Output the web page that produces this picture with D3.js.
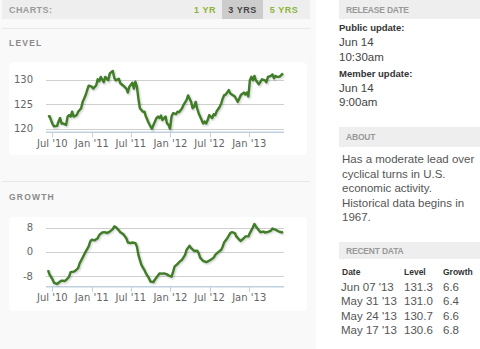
<!DOCTYPE html>
<html>
<head>
<meta charset="utf-8">
<script src="https://cdn.jsdelivr.net/npm/d3@7"></script>
<style>
  html, body { margin: 0; padding: 0; background: #fff; }
  svg { display: block; font-family: "Liberation Sans", Arial, sans-serif; }
</style>
</head>
<body>
<svg id="page" width="480" height="349"></svg>
<script>
// weeks after Fri 11 Jun 2010 (weekly readings)
const levelWeek = [0, 1, 3, 4, 6, 7, 8, 9, 10, 12, 13, 14, 15, 16, 17, 19, 20, 22, 23, 24, 25, 26, 27, 29, 30, 32, 33, 34, 35, 37, 38, 40, 41, 43, 44, 45, 47, 48, 50, 52, 53, 54, 56, 57, 58, 59, 60, 61, 63, 64, 65, 67, 69, 70, 72, 73, 74, 75, 76, 78, 79, 80, 81, 82, 83, 85, 86, 87, 89, 90, 92, 93, 95, 96, 97, 98, 99, 100, 102, 103, 104, 105, 106, 107, 109, 110, 111, 112, 114, 115, 116, 117, 118, 120, 121, 122, 124, 126, 127, 128, 130, 131, 132, 133, 134, 135, 136, 137, 138, 140, 141, 142, 144, 145, 146, 148, 149, 150, 151, 152, 153, 154, 155, 156];
const levelValue = [122.5, 122.6, 121.0, 120.5, 120.6, 121.5, 122.2, 121.1, 121.1, 120.8, 122.5, 122.8, 122.5, 123.5, 122.5, 122.8, 123.5, 124.2, 125.5, 126.2, 126.9, 127.9, 128.8, 128.6, 128.2, 128.9, 130.1, 129.7, 130.6, 129.5, 130.6, 129.9, 131.3, 131.8, 130.4, 129.9, 130.2, 129.3, 128.8, 128.2, 127.4, 128.6, 129.4, 128.2, 129.6, 128.6, 126.2, 124.2, 123.5, 123.5, 122.5, 121.1, 120.0, 120.8, 122.2, 122.5, 122.2, 122.7, 121.8, 122.5, 121.1, 120.8, 120.0, 122.5, 123.2, 123.0, 123.5, 123.4, 124.2, 124.9, 125.9, 126.8, 125.5, 124.2, 124.5, 125.5, 124.2, 123.2, 121.8, 121.1, 121.5, 121.1, 121.8, 122.8, 122.2, 123.0, 122.8, 123.6, 124.5, 125.2, 126.2, 126.9, 127.0, 127.9, 127.2, 127.0, 126.6, 125.5, 126.2, 126.9, 127.4, 127.0, 127.4, 126.6, 129.9, 130.6, 129.9, 130.8, 129.9, 129.1, 129.6, 130.1, 129.9, 129.5, 130.6, 130.8, 131.1, 130.3, 130.8, 130.6, 130.6, 130.7, 131.0, 131.3];

const growthWeek = [0, 1, 3, 4, 6, 8, 9, 11, 12, 14, 15, 17, 18, 20, 21, 23, 25, 27, 28, 29, 31, 33, 34, 36, 38, 39, 41, 43, 44, 45, 47, 48, 50, 52, 53, 55, 56, 58, 59, 60, 62, 64, 65, 67, 68, 70, 71, 73, 74, 76, 77, 79, 80, 82, 83, 84, 86, 87, 89, 91, 92, 94, 95, 97, 99, 100, 101, 103, 105, 106, 108, 110, 111, 113, 115, 116, 117, 119, 121, 122, 124, 125, 127, 128, 130, 131, 133, 134, 136, 137, 138, 140, 141, 143, 144, 146, 148, 149, 151, 153, 154, 155, 156];
const growthValue = [-6.0, -7.4, -9.1, -10.2, -10.6, -9.8, -9.5, -9.6, -9.3, -8.2, -6.7, -6.5, -6.3, -5.4, -3.8, -1.9, 0.1, 1.8, 3.4, 4.0, 3.8, 4.5, 5.6, 6.4, 6.5, 6.2, 6.7, 7.5, 8.4, 8.2, 7.1, 6.5, 5.8, 4.5, 3.1, 2.9, 3.1, 2.9, 1.8, -1.0, -4.3, -6.0, -7.1, -8.7, -9.8, -10.0, -9.1, -7.8, -7.1, -7.2, -7.1, -7.4, -7.8, -8.2, -6.7, -4.9, -4.0, -3.4, -2.6, -1.0, 0.7, 2.0, 1.2, 0.3, 0.4, -0.4, -1.9, -3.0, -3.4, -3.2, -2.6, -1.9, -1.0, -0.1, 0.7, 1.8, 3.2, 4.5, 6.2, 6.5, 6.2, 5.1, 4.0, 3.6, 4.5, 5.1, 5.1, 6.2, 8.1, 9.2, 8.4, 7.1, 6.5, 6.7, 6.4, 6.6, 7.0, 7.7, 7.3, 6.8, 6.6, 6.4, 6.6];

const levelTicks = [120, 125, 130];
const growthTicks = [-8, 0, 8];
const xTickDates = ["2010-07-01", "2011-01-01", "2011-07-01", "2012-01-01", "2012-07-01", "2013-01-01"];

const chartTabs = ["1 YR", "3 YRS", "5 YRS"];
const releaseLines = [
  {text: "Public update:", bold: true},
  {text: "Jun 14"}, {text: "10:30am"},
  {text: "Member update:", bold: true},
  {text: "Jun 14"}, {text: "9:00am"}
];
const aboutLines = ["Has a moderate lead over", "cyclical turns in U.S.", "economic activity.", "Historical data begins in", "1967."];
const recentHeader = ["Date", "Level", "Growth"];
const recentDates = ["Jun 07 '13", "May 31 '13", "May 24 '13", "May 17 '13"];
const recentLevel = ["131.3", "131.0", "130.7", "130.6"];
const recentGrowth = ["6.6", "6.4", "6.6", "6.8"];

const svg = d3.select("#page");
const start = new Date(2010, 5, 11);
const weekDate = w => d3.timeDay.offset(start, 7 * w);
const parse = d3.timeParse("%Y-%m-%d");

// backgrounds
svg.append("rect").attr("x", 0).attr("y", 0).attr("width", 316).attr("height", 349).attr("fill", "#f9f9f9");
svg.append("rect").attr("x", 2).attr("y", 0).attr("width", 308).attr("height", 19).attr("fill", "#eeeeee");
svg.append("line").attr("x1", 2).attr("x2", 310).attr("y1", 28.5).attr("y2", 28.5).attr("stroke", "#e8e8e8");
svg.append("line").attr("x1", 2).attr("x2", 310).attr("y1", 181.5).attr("y2", 181.5).attr("stroke", "#e8e8e8");

svg.append("text").attr("x", 9).attr("y", 12.5).text("CHARTS:")
  .attr("font-size", 9).attr("font-weight", "bold").attr("fill", "#9a9a9a").attr("letter-spacing", 0.4);

const tabX = [194, 222, 269];
const tabW = [22, 41, 30];
svg.append("rect").attr("x", 222).attr("y", 0).attr("width", 41).attr("height", 19).attr("fill", "#cccccc");
svg.selectAll("text.tab").data(chartTabs).join("text")
  .attr("class", "tab")
  .attr("x", (d, i) => tabX[i] + tabW[i] / 2)
  .attr("y", 12.5)
  .attr("text-anchor", "middle")
  .attr("font-size", 9).attr("font-weight", "bold").attr("letter-spacing", 0.5)
  .attr("fill", (d, i) => i === 1 ? "#444" : "#8cb43a")
  .text(d => d);

svg.append("text").attr("x", 9).attr("y", 46).text("LEVEL")
  .attr("font-size", 8.5).attr("font-weight", "bold").attr("fill", "#8a8a8a").attr("letter-spacing", 1.2);
svg.append("text").attr("x", 9).attr("y", 200).text("GROWTH")
  .attr("font-size", 8.5).attr("font-weight", "bold").attr("fill", "#8a8a8a").attr("letter-spacing", 1.2);

const x = d3.scaleTime().domain([weekDate(0), weekDate(156)]).range([48, 283]);
const fmt = d3.timeFormat("%b '%y");

function drawChart(top, bottom, weeks, values, domain, ticks, yTop, yAxis) {
  svg.append("rect").attr("x", 9).attr("y", top).attr("width", 298).attr("height", bottom - top)
    .attr("rx", 5).attr("fill", "#ffffff");

  const y = d3.scaleLinear().domain(domain).range([yAxis, yTop]);

  const g = svg.append("g");
  g.selectAll("line.grid").data(ticks).join("line")
    .attr("x1", 46).attr("x2", 284)
    .attr("y1", d => Math.round(y(d)) + 0.5).attr("y2", d => Math.round(y(d)) + 0.5)
    .attr("stroke", "#cfcfcf");
  g.selectAll("text.ylab").data(ticks).join("text")
    .attr("x", 33).attr("y", d => y(d) + 3.5)
    .attr("text-anchor", "end")
    .attr("font-family", "DejaVu Sans").attr("font-size", 10).attr("fill", "#666")
    .text(d => d);

  // x axis
  g.append("line").attr("x1", 46).attr("x2", 284).attr("y1", yAxis).attr("y2", yAxis)
    .attr("stroke", "#c0d0e0").attr("stroke-width", 1.5);
  const xt = xTickDates.map(parse);
  g.selectAll("line.tick").data(xt).join("line")
    .attr("x1", d => Math.round(x(d)) + 0.5).attr("x2", d => Math.round(x(d)) + 0.5)
    .attr("y1", yAxis).attr("y2", yAxis + 5)
    .attr("stroke", "#c0d0e0");
  g.selectAll("text.xlab").data(xt).join("text")
    .attr("x", d => x(d)).attr("y", yAxis + 14.5)
    .attr("text-anchor", "middle")
    .attr("font-family", "DejaVu Sans").attr("font-size", 10).attr("fill", "#666")
    .text(d => fmt(d));

  const pts = weeks.map((w, i) => [weekDate(w), values[i]]);
  const line = d3.line().x(d => x(d[0])).y(d => y(d[1]));
  // soft shadow like the original
  [5, 3, 1].forEach(sw => {
    g.append("path").attr("d", line(pts)).attr("fill", "none")
      .attr("transform", "translate(1,1)")
      .attr("stroke", "#000").attr("stroke-opacity", 0.06).attr("stroke-width", sw)
      .attr("stroke-linejoin", "round");
  });
  g.append("path").attr("d", line(pts)).attr("fill", "none")
    .attr("stroke", "#3f7d26").attr("stroke-width", 2.4).attr("stroke-linejoin", "round");
}

drawChart(62, 155, levelWeek, levelValue, [119.3, 132], levelTicks, 70, 132.3);
drawChart(217, 311, growthWeek, growthValue, [-11.5, 9], growthTicks, 224.6, 286.7);

// right column
function sectionBar(y, h, label) {
  svg.append("rect").attr("x", 339).attr("y", y).attr("width", 141).attr("height", h).attr("fill", "#eeeeee");
  svg.append("text").attr("x", 346).attr("y", y + h / 2 + 3).text(label)
    .attr("font-size", 8.5).attr("font-weight", "bold").attr("fill", "#999").attr("letter-spacing", -0.2);
}
sectionBar(0, 19, "RELEASE DATE");
sectionBar(127, 20, "ABOUT");
sectionBar(242, 17, "RECENT DATA");

const releaseY = [31, 46, 61, 77, 92, 106];
svg.selectAll("text.rel").data(releaseLines).join("text")
  .attr("x", 339).attr("y", (d, i) => releaseY[i])
  .attr("font-size", d => d.bold ? 9.5 : 11.5)
  .attr("font-weight", d => d.bold ? "bold" : "normal")
  .attr("fill", d => d.bold ? "#333" : "#444")
  .text(d => d.text);

svg.selectAll("text.about").data(aboutLines).join("text")
  .attr("x", 342).attr("y", (d, i) => 163 + i * 14.5)
  .attr("font-size", 11.5).attr("fill", "#555")
  .text(d => d);

const colX = [342, 404, 443];
svg.selectAll("text.rh").data(recentHeader).join("text")
  .attr("x", (d, i) => colX[i]).attr("y", 275)
  .attr("font-size", 8.5).attr("font-weight", "bold").attr("fill", "#333")
  .text(d => d);
const rowY = [291, 305, 319.5, 333.5];
[recentDates, recentLevel, recentGrowth].forEach((col, c) => {
  svg.selectAll("text.rc" + c).data(col).join("text")
    .attr("class", "rc" + c)
    .attr("x", colX[c] - (c === 0 ? 1 : 0)).attr("y", (d, i) => rowY[i])
    .attr("font-size", 11.5).attr("fill", "#555")
    .text(d => d);
});
</script>
</body>
</html>
